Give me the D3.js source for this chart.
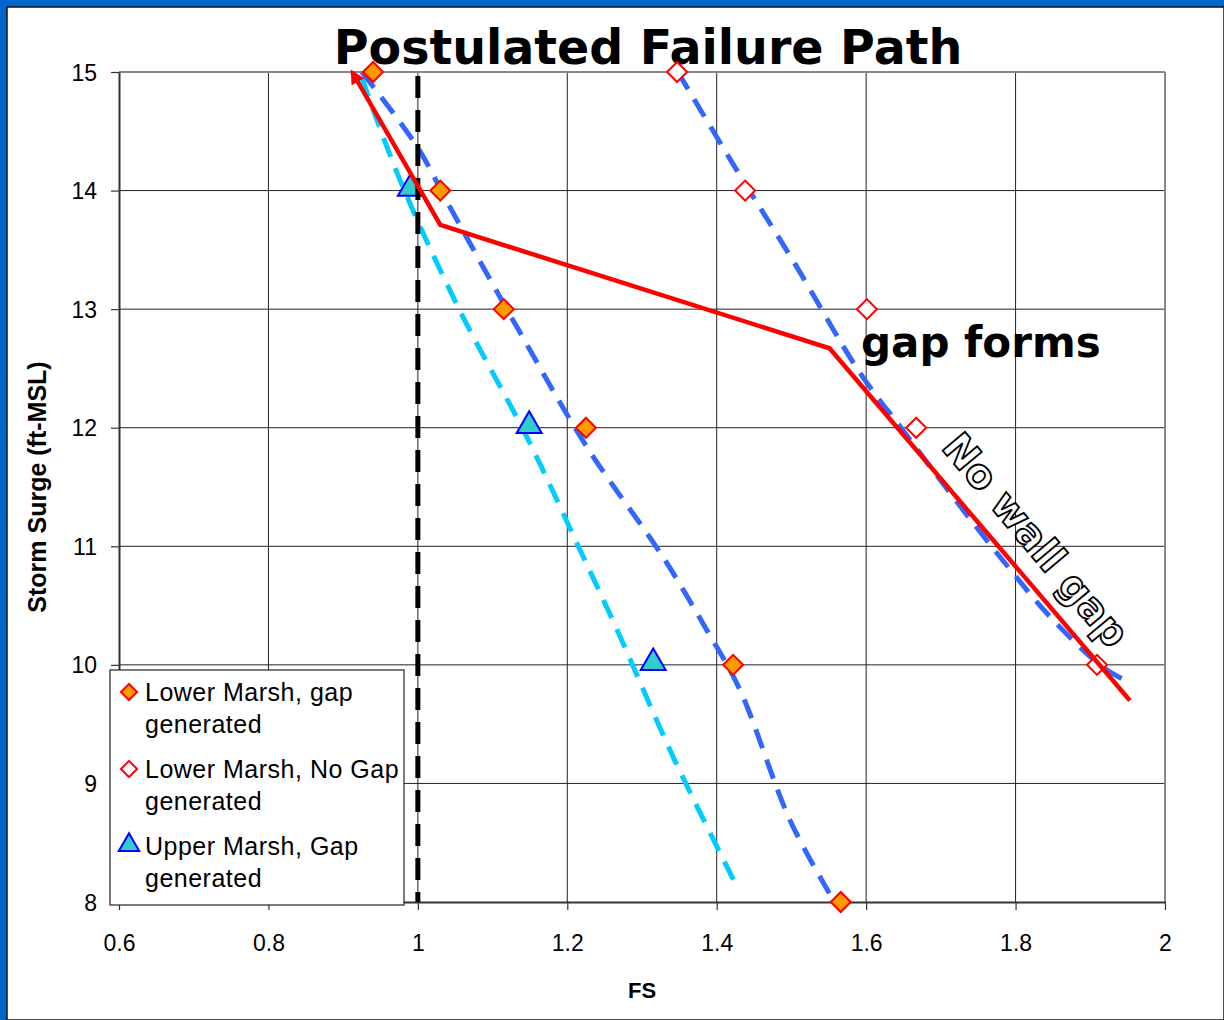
<!DOCTYPE html>
<html><head><meta charset="utf-8">
<script src="https://cdn.jsdelivr.net/npm/d3@7"></script>
<style>
html,body{margin:0;padding:0;background:#0066CC;}
svg{display:block;}
</style>
</head><body>
<svg id="chart" width="1224" height="1020"></svg>
<script>
// ---- data ----
const xTicks = [0.6, 0.8, 1.0, 1.2, 1.4, 1.6, 1.8, 2.0];
const xTickLabels = ["0.6", "0.8", "1", "1.2", "1.4", "1.6", "1.8", "2"];
const yTicks = [8, 9, 10, 11, 12, 13, 14, 15];
const yTickLabels = ["8", "9", "10", "11", "12", "13", "14", "15"];

const lowerGapFS =   [0.940, 1.030, 1.115, 1.225, 1.422, 1.566];
const lowerGapSurge = [15, 14, 13, 12, 10, 8];
const lowerNoGapFS =  [1.347, 1.438, 1.601, 1.667, 1.909];
const lowerNoGapSurge = [15, 14, 13, 12, 10];
const upperGapFS =   [0.990, 1.149, 1.315];
const upperGapSurge = [14, 12, 10];

// trendlines
const trendLowerGapFS = [0.925, 0.999, 1.043, 1.137, 1.226, 1.328, 1.387, 1.431, 1.498, 1.552];
const trendLowerGapSurge = [15.0, 14.37, 13.86, 12.80, 11.84, 10.91, 10.29, 9.79, 8.69, 8.06];
const trendUpperGapFS = [0.925, 0.976, 1.056, 1.146, 1.217, 1.267, 1.342, 1.427];
const trendUpperGapSurge = [14.95, 14.09, 12.99, 11.92, 10.97, 10.29, 9.22, 8.13];
const trendNoGapFS = [1.348, 1.427, 1.502, 1.592, 1.649, 1.716, 1.783, 1.850, 1.917, 1.953];
const trendNoGapSurge = [15.0, 14.17, 13.41, 12.46, 11.98, 11.42, 10.88, 10.38, 9.98, 9.85];

// postulated failure path (drawn arrow)
const pathFS = [1.953, 1.551, 1.030, 0.912];
const pathSurge = [9.70, 12.67, 13.71, 15.0];

const fsLimit = 1.0;
const legendLabels = [["Lower Marsh, gap", "generated"], ["Lower Marsh, No Gap", "generated"], ["Upper Marsh, Gap", "generated"]];

// ---- drawing ----
const svg = d3.select("#chart");
const W = 1224, H = 1020;
const m = {left: 119, right: 1165, top: 72, bottom: 902};

// panel
svg.append("rect").attr("x", 0).attr("y", 0).attr("width", W).attr("height", H).attr("fill", "#0066CC");
svg.append("rect").attr("x", 7).attr("y", 7).attr("width", W - 7).attr("height", H - 7)
  .attr("fill", "#fff").attr("stroke", "#111").attr("stroke-width", 1.5);

const x = d3.scaleLinear().domain([0.6, 2.0]).range([m.left, m.right]);
const y = d3.scaleLinear().domain([8, 15]).range([m.bottom, m.top]);

// grid
const g = svg.append("g");
g.selectAll("line.vg").data(xTicks.slice(1, -1)).join("line")
  .attr("x1", d => x(d)).attr("x2", d => x(d)).attr("y1", m.top).attr("y2", m.bottom)
  .attr("stroke", "#222").attr("stroke-width", 1);
g.selectAll("line.hg").data(yTicks.slice(1, -1)).join("line")
  .attr("x1", m.left).attr("x2", m.right).attr("y1", d => y(d)).attr("y2", d => y(d))
  .attr("stroke", "#222").attr("stroke-width", 1);
// top & right border (gray)
g.append("line").attr("x1", m.left).attr("x2", m.right).attr("y1", m.top).attr("y2", m.top)
  .attr("stroke", "#888").attr("stroke-width", 2);
g.append("line").attr("x1", m.right).attr("x2", m.right).attr("y1", m.top).attr("y2", m.bottom)
  .attr("stroke", "#888").attr("stroke-width", 2);

// axes
const xAxis = d3.axisBottom(x).tickValues(xTicks).tickFormat((d, i) => xTickLabels[i]).tickSize(8).tickSizeOuter(0);
const yAxis = d3.axisLeft(y).tickValues(yTicks).tickFormat((d, i) => yTickLabels[i]).tickSize(8).tickSizeOuter(0);
const gx = svg.append("g").attr("transform", `translate(0,${m.bottom})`).call(xAxis);
const gy = svg.append("g").attr("transform", `translate(${m.left},0)`).call(yAxis);
[gx, gy].forEach(a => {
  a.select(".domain").attr("stroke", "#333").attr("stroke-width", 2);
  a.selectAll(".tick line").attr("stroke", "#333").attr("stroke-width", 1.2);
  a.selectAll(".tick text").attr("font-family", "'Liberation Sans', Arial, sans-serif")
    .attr("font-size", 23).attr("fill", "#000");
});
gx.selectAll(".tick text").attr("dy", 0).attr("y", 49);
gy.selectAll(".tick text").attr("x", -22).attr("dy", "0.35em");

// axis titles
svg.append("text").attr("x", 642).attr("y", 998).attr("text-anchor", "middle")
  .attr("font-family", "'Liberation Sans', Arial, sans-serif").attr("font-weight", "bold")
  .attr("font-size", 22).text("FS");
svg.append("text").attr("transform", "translate(46,487) rotate(-90)").attr("text-anchor", "middle")
  .attr("font-family", "'Liberation Sans', Arial, sans-serif").attr("font-weight", "bold")
  .attr("font-size", 25).text("Storm Surge (ft-MSL)");

// title
svg.append("text").attr("x", 648).attr("y", 64).attr("text-anchor", "middle")
  .attr("font-family", "'DejaVu Sans', Verdana, sans-serif").attr("font-weight", "bold")
  .attr("font-size", 47.5).attr("fill", "#000").text("Postulated Failure Path");

const line = d3.line().x(d => x(d[0])).y(d => y(d[1]));
const zip = (a, b) => a.map((v, i) => [v, b[i]]);

// trendlines
svg.append("path").datum(zip(trendUpperGapFS, trendUpperGapSurge)).attr("d", line.curve(d3.curveCatmullRom))
  .attr("fill", "none").attr("stroke", "#00CCFF").attr("stroke-width", 5).attr("stroke-dasharray", "20,12");
svg.append("path").datum(zip(trendLowerGapFS, trendLowerGapSurge)).attr("d", line.curve(d3.curveCatmullRom))
  .attr("fill", "none").attr("stroke", "#3366FF").attr("stroke-width", 5).attr("stroke-dasharray", "20,12");
svg.append("path").datum(zip(trendNoGapFS, trendNoGapSurge)).attr("d", line.curve(d3.curveCatmullRom))
  .attr("fill", "none").attr("stroke", "#3366FF").attr("stroke-width", 5).attr("stroke-dasharray", "20,12");

// markers
svg.selectAll("path.lg").data(zip(lowerGapFS, lowerGapSurge)).join("path")
  .attr("d", d3.symbol().type(d3.symbolSquare).size(200)).attr("transform", d => `translate(${x(d[0])},${y(d[1])}) rotate(45)`)
  .attr("fill", "#FF9900").attr("stroke", "#FF0000").attr("stroke-width", 2);
svg.selectAll("path.lng").data(zip(lowerNoGapFS, lowerNoGapSurge)).join("path")
  .attr("d", d3.symbol().type(d3.symbolSquare).size(200)).attr("transform", d => `translate(${x(d[0])},${y(d[1])}) rotate(45)`)
  .attr("fill", "#fff").attr("stroke", "#FF0000").attr("stroke-width", 2);
svg.selectAll("path.ug").data(zip(upperGapFS, upperGapSurge)).join("path")
  .attr("d", d3.symbol().type(d3.symbolTriangle).size(270)).attr("transform", d => `translate(${x(d[0])},${y(d[1]) - 2})`)
  .attr("fill", "#33CCCC").attr("stroke", "#0000FF").attr("stroke-width", 2);

// FS = 1 dashed line
svg.append("line").attr("x1", x(fsLimit)).attr("x2", x(fsLimit)).attr("y1", y(15) + 4).attr("y2", y(8))
  .attr("stroke", "#000").attr("stroke-width", 5).attr("stroke-dasharray", "22,12");

// red failure path with arrow
svg.append("defs").append("marker").attr("id", "arrow").attr("viewBox", "0 0 10 10")
  .attr("refX", 8).attr("refY", 5).attr("markerWidth", 3.2).attr("markerHeight", 3.2)
  .attr("orient", "auto").attr("markerUnits", "strokeWidth")
  .append("path").attr("d", "M0,0 L10,5 L0,10 z").attr("fill", "#FF0000");
svg.append("path").datum(zip(pathFS, pathSurge)).attr("d", line.curve(d3.curveLinear))
  .attr("fill", "none").attr("stroke", "#FF0000").attr("stroke-width", 4.5)
  .attr("stroke-linejoin", "miter").attr("marker-end", "url(#arrow)");

// annotations
svg.append("text").attr("x", 861).attr("y", 357)
  .attr("font-family", "'DejaVu Sans', Verdana, sans-serif").attr("font-weight", "bold")
  .attr("font-size", 42).attr("fill", "#000").text("gap forms");
svg.append("text").attr("transform", "translate(1036,540) rotate(50)")
  .attr("text-anchor", "middle").attr("dominant-baseline", "central")
  .attr("font-family", "'DejaVu Sans', Verdana, sans-serif").attr("font-weight", "bold")
  .attr("font-size", 40).attr("fill", "#fff").attr("stroke", "#000").attr("stroke-width", 1.8)
  .text("No wall gap");

// legend
const lg = svg.append("g");
lg.append("rect").attr("x", 110).attr("y", 670).attr("width", 294).attr("height", 235)
  .attr("fill", "#fff").attr("stroke", "#222").attr("stroke-width", 1.2);
const legRows = [692, 769, 846];
const legSyms = [
  s => s.attr("d", d3.symbol().type(d3.symbolSquare).size(130)).attr("transform", "rotate(45)").attr("fill", "#FF9900").attr("stroke", "#FF0000").attr("stroke-width", 2),
  s => s.attr("d", d3.symbol().type(d3.symbolSquare).size(130)).attr("transform", "rotate(45)").attr("fill", "#fff").attr("stroke", "#FF0000").attr("stroke-width", 2),
  s => s.attr("d", d3.symbol().type(d3.symbolTriangle).size(180)).attr("transform", "translate(0,-1)").attr("fill", "#33CCCC").attr("stroke", "#0000FF").attr("stroke-width", 2)
];
legendLabels.forEach((lab, i) => {
  const row = lg.append("g").attr("transform", `translate(129,${legRows[i]})`);
  legSyms[i](row.append("path"));
  lab.forEach((t, j) => {
    row.append("text").attr("x", 16).attr("y", j * 32).attr("dy", "0.35em")
      .attr("font-family", "'Liberation Sans', Arial, sans-serif").attr("font-size", 25)
      .attr("letter-spacing", 0.5).attr("fill", "#000").text(t);
  });
});
</script>
</body></html>
